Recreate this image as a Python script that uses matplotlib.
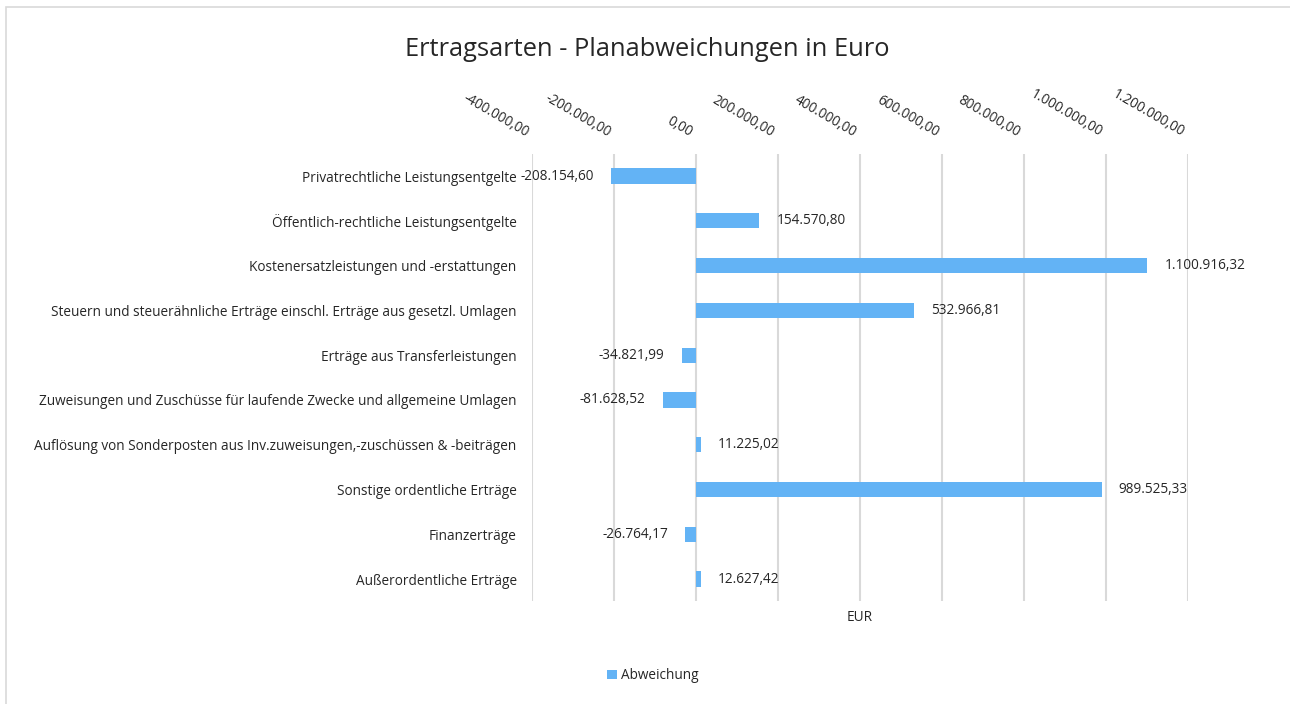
#!/usr/bin/env python3
"""Ertragsarten - Planabweichungen in Euro, horizontal bar chart."""

import matplotlib

matplotlib.use("Agg")
import matplotlib.pyplot as plt
from matplotlib.patches import Rectangle
from matplotlib.transforms import ScaledTranslation

CATEGORIES = [
    "Privatrechtliche Leistungsentgelte",
    "Öffentlich-rechtliche Leistungsentgelte",
    "Kostenersatzleistungen und -erstattungen",
    "Steuern und steuerähnliche Erträge einschl. Erträge aus gesetzl. Umlagen",
    "Erträge aus Transferleistungen",
    "Zuweisungen und Zuschüsse für laufende Zwecke und allgemeine Umlagen",
    "Auflösung von Sonderposten aus Inv.zuweisungen,-zuschüssen & -beiträgen",
    "Sonstige ordentliche Erträge",
    "Finanzerträge",
    "Außerordentliche Erträge",
]
VALUES = [
    -208154.60,
    154570.80,
    1100916.32,
    532966.81,
    -34821.99,
    -81628.52,
    11225.02,
    989525.33,
    -26764.17,
    12627.42,
]
X_TICKS = [-400000, -200000, 0, 200000, 400000, 600000, 800000, 1000000, 1200000]

BAR_COLOR = "#63b3f5"
GRID = "#d9d9d9"
INK = "#262626"
FONT = "Open Sans"
FS = 9.8


def de_format(v):
    """1234567.8 -> 1.234.567,80"""
    s = f"{abs(v):,.2f}".replace(",", "X").replace(".", ",").replace("X", ".")
    return ("-" if v < 0 else "") + s


def main():
    plt.rcParams["font.family"] = [FONT, "DejaVu Sans"]

    fig = plt.figure(figsize=(12.9, 7.04), dpi=100)
    fig.patch.set_facecolor("white")
    fig.patches.append(
        Rectangle((6 / 1290, -0.1), 1.2, 1.1 - 7 / 704, transform=fig.transFigure,
                  fill=False, edgecolor=GRID, linewidth=1.2)
    )

    ax = fig.add_axes([0.4124, 0.1457, 0.5085, 0.6361])
    ypos = list(range(len(CATEGORIES)))
    ax.barh(ypos, VALUES, height=0.34, color=BAR_COLOR, zorder=3,
            label="Abweichung")

    ax.set_xlim(X_TICKS[0], X_TICKS[-1])
    ax.set_ylim(len(CATEGORIES) - 0.5, -0.5)
    ax.set_yticks(ypos)
    ax.set_yticklabels(CATEGORIES, fontsize=FS, color=INK)
    ax.tick_params(axis="y", length=0, pad=11)

    ax.set_xticks(X_TICKS)
    ax.xaxis.tick_top()
    ax.tick_params(axis="x", length=0, pad=9.5)
    ax.set_xticklabels([de_format(t) for t in X_TICKS], fontsize=FS,
                       color=INK, rotation=-30, ha="right", va="bottom",
                       rotation_mode="anchor")
    ax.grid(axis="x", color=GRID, linewidth=1.5, zorder=0)
    for spine in ax.spines.values():
        spine.set_visible(False)

    ax.set_xlabel("EUR", fontsize=FS, color=INK, labelpad=6)
    ax.xaxis.set_label_position("bottom")

    for y, v in zip(ypos, VALUES):
        off = 17000 * 2.44
        if v >= 0:
            ax.text(v + off, y, de_format(v), ha="left", va="center",
                    fontsize=FS, color=INK)
        else:
            ax.text(v - off, y, de_format(v), ha="right", va="center",
                    fontsize=FS, color=INK)

    fig.suptitle("Ertragsarten - Planabweichungen in Euro", x=0.502, y=0.948,
                 fontsize=18.4, color=INK)

    fig.legend(loc="center", bbox_to_anchor=(0.506, 0.04), frameon=False,
               fontsize=FS, handlelength=0.7, handleheight=0.7,
               handletextpad=0.3, labelcolor=INK)

    # nudge rotated top labels left so they end at their gridline
    shift = ScaledTranslation(-6 / 72, 0, fig.dpi_scale_trans)
    for lbl in ax.get_xticklabels():
        lbl.set_transform(lbl.get_transform() + shift)

    fig.savefig("out.png", dpi=100, facecolor="white")


if __name__ == "__main__":
    main()
